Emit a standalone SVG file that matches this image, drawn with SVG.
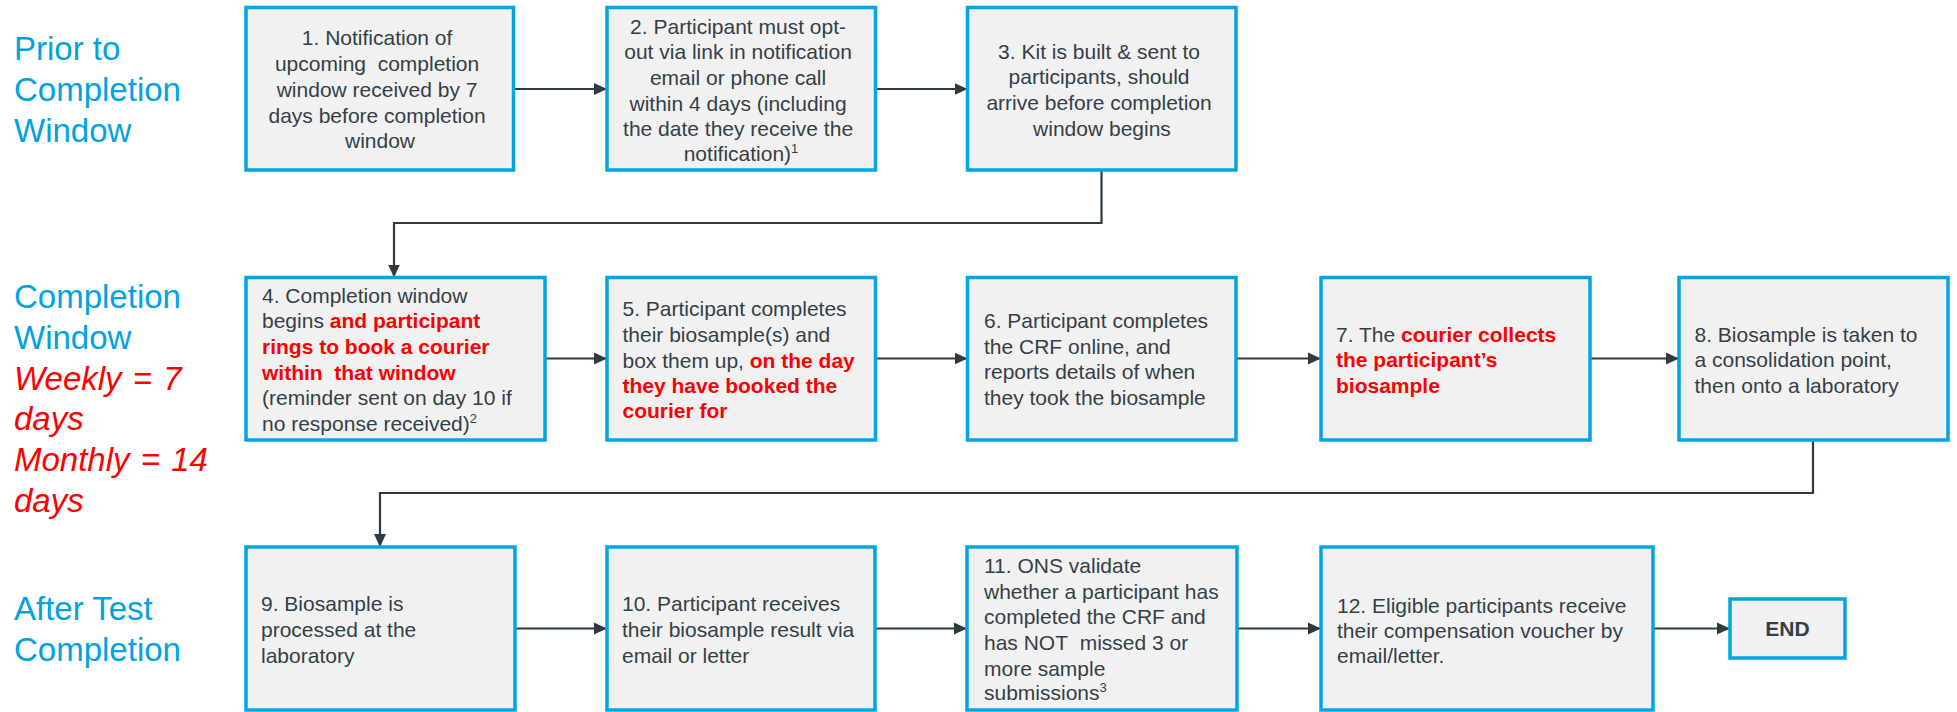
<svg xmlns="http://www.w3.org/2000/svg" width="1957" height="712" viewBox="0 0 1957 712">
<style>
.box{fill:#F1F1F1;stroke:#00A6E2;stroke-width:3.5}
.t{font-family:"Liberation Sans",Arial,sans-serif;font-size:21px;fill:#333F48}
.c{text-anchor:middle}
.r{fill:#FF0000;font-weight:bold}
.sup{font-size:13px}
.lab{font-family:"Liberation Sans",Arial,sans-serif;font-size:33px;fill:#00A3E0}
.red{fill:#FF0000;font-style:italic;word-spacing:2px}
.ln{fill:none;stroke:#2E3B43;stroke-width:2.2}
</style>
<defs>
<marker id="ah" markerUnits="userSpaceOnUse" markerWidth="14" markerHeight="14" refX="13" refY="7" orient="auto">
<path d="M0,1 L13,7 L0,13 Z" fill="#2E3B43"/>
</marker>
</defs>
<rect width="1957" height="712" fill="#FFFFFF"/>

<g id="labels">
<text class="lab" x="14" y="60">Prior to</text>
<text class="lab" x="14" y="101">Completion</text>
<text class="lab" x="14" y="142">Window</text>
<text class="lab" x="14" y="308">Completion</text>
<text class="lab" x="14" y="349">Window</text>
<text class="lab red" x="14" y="390">Weekly = 7</text>
<text class="lab red" x="14" y="430">days</text>
<text class="lab red" x="14" y="471">Monthly = 14</text>
<text class="lab red" x="14" y="512">days</text>
<text class="lab" x="14" y="620">After Test</text>
<text class="lab" x="14" y="661">Completion</text>
</g>

<g id="connectors">
<line class="ln" x1="513.5" y1="89" x2="607" y2="89" marker-end="url(#ah)"/>
<line class="ln" x1="875.5" y1="89" x2="967.5" y2="89" marker-end="url(#ah)"/>
<polyline class="ln" points="1101.5,170 1101.5,223 394,223 394,277.5" marker-end="url(#ah)"/>
<line class="ln" x1="545" y1="358.5" x2="607" y2="358.5" marker-end="url(#ah)"/>
<line class="ln" x1="875.5" y1="358.5" x2="967.5" y2="358.5" marker-end="url(#ah)"/>
<line class="ln" x1="1236" y1="358.5" x2="1321" y2="358.5" marker-end="url(#ah)"/>
<line class="ln" x1="1590" y1="358.5" x2="1679" y2="358.5" marker-end="url(#ah)"/>
<polyline class="ln" points="1813,440 1813,493 380,493 380,547" marker-end="url(#ah)"/>
<line class="ln" x1="515" y1="628.5" x2="607" y2="628.5" marker-end="url(#ah)"/>
<line class="ln" x1="875" y1="628.5" x2="967" y2="628.5" marker-end="url(#ah)"/>
<line class="ln" x1="1237" y1="628.5" x2="1321" y2="628.5" marker-end="url(#ah)"/>
<line class="ln" x1="1653" y1="628.5" x2="1730" y2="628.5" marker-end="url(#ah)"/>
</g>

<g id="n1">
<rect class="box" x="246" y="7.5" width="267.5" height="162.5"/>
<text class="t c">
<tspan x="380" y="45">1. Notification of</tspan>
<tspan x="380" y="71">upcoming&#160; completion</tspan>
<tspan x="380" y="97">window received by 7</tspan>
<tspan x="380" y="122.5">days before completion</tspan>
<tspan x="380" y="148">window</tspan>
</text>
</g>

<g id="n2">
<rect class="box" x="607" y="7.5" width="268.5" height="162.5"/>
<text class="t c">
<tspan x="741" y="33.5">2. Participant must opt-</tspan>
<tspan x="741" y="59">out via link in notification</tspan>
<tspan x="741" y="85">email or phone call</tspan>
<tspan x="741" y="110.5">within 4 days (including</tspan>
<tspan x="741" y="136">the date they receive the</tspan>
<tspan x="741" y="161">notification)<tspan class="sup" dy="-8">1</tspan></tspan>
</text>
</g>

<g id="n3">
<rect class="box" x="967.5" y="7.5" width="268.5" height="162.5"/>
<text class="t c">
<tspan x="1102" y="58.5">3. Kit is built &amp; sent to</tspan>
<tspan x="1102" y="84">participants, should</tspan>
<tspan x="1102" y="110">arrive before completion</tspan>
<tspan x="1102" y="135.5">window begins</tspan>
</text>
</g>

<g id="n4">
<rect class="box" x="246" y="277.5" width="299" height="162.5"/>
<text class="t">
<tspan x="262" y="302.5">4. Completion window</tspan>
<tspan x="262" y="328">begins <tspan class="r">and participant</tspan></tspan>
<tspan x="262" y="354" class="r">rings to book a courier</tspan>
<tspan x="262" y="379.5" class="r">within&#160; that window</tspan>
<tspan x="262" y="405">(reminder sent on day 10 if</tspan>
<tspan x="262" y="430.5">no response received)<tspan class="sup" dy="-8">2</tspan></tspan>
</text>
</g>

<g id="n5">
<rect class="box" x="607" y="277.5" width="268.5" height="162.5"/>
<text class="t">
<tspan x="622.5" y="316">5. Participant completes</tspan>
<tspan x="622.5" y="341.5">their biosample(s) and</tspan>
<tspan x="622.5" y="367.5">box them up, <tspan class="r">on the day</tspan></tspan>
<tspan x="622.5" y="392.5" class="r">they have booked the</tspan>
<tspan x="622.5" y="418" class="r">courier for</tspan>
</text>
</g>

<g id="n6">
<rect class="box" x="967.5" y="277.5" width="268.5" height="162.5"/>
<text class="t">
<tspan x="984" y="327.5">6. Participant completes</tspan>
<tspan x="984" y="353.5">the CRF online, and</tspan>
<tspan x="984" y="379">reports details of when</tspan>
<tspan x="984" y="405">they took the biosample</tspan>
</text>
</g>

<g id="n7">
<rect class="box" x="1321" y="277.5" width="269" height="162.5"/>
<text class="t">
<tspan x="1336" y="341.5">7. The <tspan class="r">courier collects</tspan></tspan>
<tspan x="1336" y="367" class="r">the participant’s</tspan>
<tspan x="1336" y="392.5" class="r">biosample</tspan>
</text>
</g>

<g id="n8">
<rect class="box" x="1679" y="277.5" width="269" height="162.5"/>
<text class="t">
<tspan x="1694.5" y="341.5">8. Biosample is taken to</tspan>
<tspan x="1694.5" y="367">a consolidation point,</tspan>
<tspan x="1694.5" y="392.5">then onto a laboratory</tspan>
</text>
</g>

<g id="n9">
<rect class="box" x="246" y="547" width="269" height="163"/>
<text class="t">
<tspan x="261" y="611">9. Biosample is</tspan>
<tspan x="261" y="637">processed at the</tspan>
<tspan x="261" y="662.5">laboratory</tspan>
</text>
</g>

<g id="n10">
<rect class="box" x="607" y="547" width="268" height="163"/>
<text class="t">
<tspan x="622" y="611">10. Participant receives</tspan>
<tspan x="622" y="637">their biosample result via</tspan>
<tspan x="622" y="662.5">email or letter</tspan>
</text>
</g>

<g id="n11">
<rect class="box" x="967" y="547" width="270" height="163"/>
<text class="t">
<tspan x="984" y="573">11. ONS validate</tspan>
<tspan x="984" y="598.5">whether a participant has</tspan>
<tspan x="984" y="624">completed the CRF and</tspan>
<tspan x="984" y="650">has NOT&#160; missed 3 or</tspan>
<tspan x="984" y="676">more sample</tspan>
<tspan x="984" y="700">submissions<tspan class="sup" dy="-8">3</tspan></tspan>
</text>
</g>

<g id="n12">
<rect class="box" x="1321" y="547" width="332" height="163"/>
<text class="t">
<tspan x="1337" y="612.5">12. Eligible participants receive</tspan>
<tspan x="1337" y="637.5">their compensation voucher by</tspan>
<tspan x="1337" y="663">email/letter.</tspan>
</text>
</g>

<g id="end">
<rect class="box" x="1730" y="599" width="115" height="59"/>
<text class="t c" x="1787.5" y="636" font-weight="bold">END</text>
</g>
</svg>
